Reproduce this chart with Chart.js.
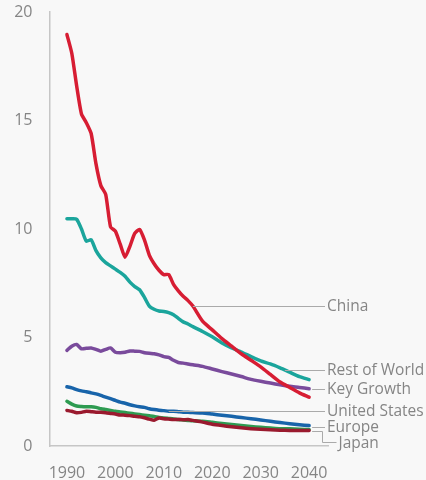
<!DOCTYPE html>
<html>
<head>
<meta charset="utf-8">
<script src="https://cdn.jsdelivr.net/npm/chart.js@4/dist/chart.umd.min.js"></script>
<style>
  html, body { margin: 0; padding: 0; background: #f8f8f8; }
  #wrap { width: 426px; height: 480px; }
  canvas { display: block; }
</style>
</head>
<body>
<div id="wrap"><canvas id="c" width="426" height="480"></canvas></div>
<script>
// Years: annual through 2016, then every two years to 2040
const years = [1990,1991,1992,1993,1994,1995,1996,1997,1998,1999,2000,2001,2002,2003,2004,2005,2006,2007,2008,2009,2010,2011,2012,2013,2014,2015,2016,
               2018,2020,2022,2024,2026,2028,2030,2032,2034,2036,2038,2040];

const china = [18.96,18.1,16.6,15.3,14.9,14.4,13.0,12.0,11.6,10.1,9.9,9.3,8.7,9.2,9.8,9.98,9.5,8.8,8.4,8.1,7.9,7.9,7.45,7.15,6.9,6.7,6.45,
               5.75,5.35,4.95,4.6,4.25,3.95,3.65,3.3,2.95,2.7,2.45,2.25];
const restOfWorld = [10.47,10.47,10.45,10.0,9.44,9.5,9.0,8.67,8.45,8.3,8.15,8.0,7.82,7.55,7.35,7.2,6.85,6.45,6.3,6.22,6.2,6.15,6.05,5.88,5.72,5.62,5.5,
               5.28,5.03,4.75,4.52,4.33,4.12,3.92,3.78,3.6,3.4,3.2,3.06];
const keyGrowth = [4.41,4.6,4.68,4.48,4.5,4.52,4.45,4.37,4.45,4.52,4.32,4.3,4.32,4.38,4.37,4.36,4.3,4.27,4.25,4.2,4.12,4.08,3.95,3.85,3.82,3.78,3.74,
               3.67,3.55,3.43,3.32,3.2,3.07,2.98,2.9,2.82,2.75,2.7,2.64];
const unitedStates = [2.73,2.68,2.6,2.54,2.5,2.45,2.4,2.33,2.25,2.18,2.1,2.02,1.97,1.9,1.85,1.81,1.78,1.72,1.68,1.65,1.63,1.6,1.6,1.58,1.56,1.55,1.54,
               1.52,1.47,1.42,1.37,1.31,1.26,1.2,1.14,1.08,1.03,0.98,0.94];
const europe = [2.06,1.93,1.84,1.82,1.81,1.81,1.78,1.72,1.68,1.64,1.6,1.57,1.54,1.51,1.48,1.45,1.42,1.39,1.36,1.32,1.29,1.27,1.25,1.22,1.2,1.18,1.16,
               1.14,1.09,1.04,0.99,0.94,0.9,0.86,0.83,0.8,0.79,0.77,0.76];
const japan = [1.64,1.6,1.53,1.55,1.6,1.58,1.56,1.55,1.53,1.5,1.47,1.43,1.42,1.4,1.37,1.35,1.3,1.24,1.19,1.29,1.26,1.24,1.22,1.22,1.21,1.22,1.18,
               1.1,1.0,0.94,0.89,0.84,0.8,0.77,0.75,0.73,0.72,0.71,0.71];

const xTicks = [1990, 2000, 2010, 2020, 2030, 2040];
const yTicks = [0, 5, 10, 15, 20];

const toPoints = vals => vals.map((v, i) => ({ x: years[i], y: v }));

// Series: name, values, colour, year where its leader line leaves the curve
const series = [
  { name: 'China',         data: china,        color: '#d71d33', anchor: 2016 },
  { name: 'Rest of World', data: restOfWorld,  color: '#1ba59c', anchor: 2035 },
  { name: 'Key Growth',    data: keyGrowth,    color: '#7a4b9c', anchor: 2040 },
  { name: 'United States', data: unitedStates, color: '#1864aa', anchor: 2011 },
  { name: 'Japan',         data: japan,        color: '#9a1a2e', anchor: 2040 },
  { name: 'Europe',        data: europe,       color: '#2e9b51', anchor: 2040 }
];

function valueAt(vals, yr) {
  for (let i = 0; i < years.length - 1; i++) {
    if (yr >= years[i] && yr <= years[i + 1]) {
      const t = (yr - years[i]) / (years[i + 1] - years[i]);
      return vals[i] + t * (vals[i + 1] - vals[i]);
    }
  }
  return vals[vals.length - 1];
}

const FONT = '"Open Sans", "Noto Sans", sans-serif';
const TEXT = '#858585';
const LEADER = '#aaaaaa';

// Direct labels with grey leader lines to the right of the plot
const seriesLabels = {
  id: 'seriesLabels',
  afterDatasetsDraw(chart) {
    const { ctx, chartArea } = chart;
    const xs = chart.scales.x, ys = chart.scales.y;
    const textX = chartArea.right - 1;
    const leaderEnd = chartArea.right - 3;
    ctx.save();
    ctx.font = '15.5px ' + FONT;
    ctx.fillStyle = TEXT;
    ctx.textBaseline = 'middle';
    ctx.textAlign = 'left';
    ctx.strokeStyle = LEADER;
    ctx.lineWidth = 1;

    const line = pts => {
      ctx.beginPath();
      ctx.moveTo(pts[0][0], pts[0][1]);
      for (let i = 1; i < pts.length; i++) ctx.lineTo(pts[i][0], pts[i][1]);
      ctx.stroke();
    };

    const byName = n => series.find(s => s.name === n);
    const endX = xs.getPixelForValue(2040) + 3;

    // Leaders that leave the curve horizontally
    ['China', 'Rest of World', 'Key Growth', 'United States'].forEach(n => {
      const s = byName(n);
      const y = Math.round(ys.getPixelForValue(valueAt(s.data, s.anchor))) + 0.5;
      const x0 = s.anchor >= 2040 ? endX : xs.getPixelForValue(s.anchor);
      line([[x0, y], [leaderEnd, y]]);
      ctx.fillText(n, textX, y);
    });

    // Europe: short leader off the line end
    const eu = byName('Europe');
    const euY = Math.round(ys.getPixelForValue(eu.data[eu.data.length - 1])) - 2.5;
    line([[endX, euY], [leaderEnd, euY]]);
    ctx.fillText('Europe', textX, euY + 0.5);

    // Japan: elbow leader dropping below Europe
    const jp = byName('Japan');
    const jpY = Math.round(ys.getPixelForValue(jp.data[jp.data.length - 1])) + 0.5;
    const elbowX = leaderEnd - 2.5;
    const jpLabelY = jpY + 11;
    line([[endX, jpY], [elbowX, jpY], [elbowX, jpLabelY], [elbowX + 14, jpLabelY]]);
    ctx.fillText('Japan', elbowX + 16, jpLabelY + 1);

    ctx.restore();
  }
};

new Chart(document.getElementById('c'), {
  type: 'line',
  data: {
    datasets: series.map(s => ({
      label: s.name,
      data: toPoints(s.data),
      borderColor: s.color,
      backgroundColor: s.color,
      borderWidth: 3.5,
      pointRadius: 0,
      tension: 0.2,
      borderCapStyle: 'round',
      borderJoinStyle: 'round',
      fill: false
    }))
  },
  options: {
    responsive: false,
    devicePixelRatio: 1,
    animation: false,
    layout: { padding: { top: 12, right: 98, left: 0, bottom: 0 } },
    plugins: { legend: { display: false }, tooltip: { enabled: false } },
    scales: {
      x: {
        type: 'linear',
        min: 1986.4,
        max: 2043.9,
        afterBuildTicks: sc => { sc.ticks = xTicks.map(v => ({ value: v })); },
        afterFit: sc => { sc.height = 34; sc.paddingLeft = 0; sc.paddingRight = 0; },
        grid: { display: false, drawTicks: false },
        border: { display: true, color: '#c6c6c6', width: 1.5 },
        ticks: {
          padding: 18,
          color: TEXT,
          font: { family: FONT, size: 16 },
          maxRotation: 0,
          autoSkip: false,
          callback: v => String(v)
        }
      },
      y: {
        min: 0,
        max: 20,
        afterBuildTicks: sc => { sc.ticks = yTicks.map(v => ({ value: v })); },
        afterFit: sc => { sc.width = 49.5; sc.paddingTop = 0; sc.paddingBottom = 0; },
        grid: { display: false, drawTicks: false },
        border: { display: true, color: '#c6c6c6', width: 1.5 },
        ticks: {
          padding: 17,
          color: TEXT,
          font: { family: FONT, size: 16 },
          callback: v => String(v)
        }
      }
    }
  },
  plugins: [seriesLabels]
});
</script>
</body>
</html>
